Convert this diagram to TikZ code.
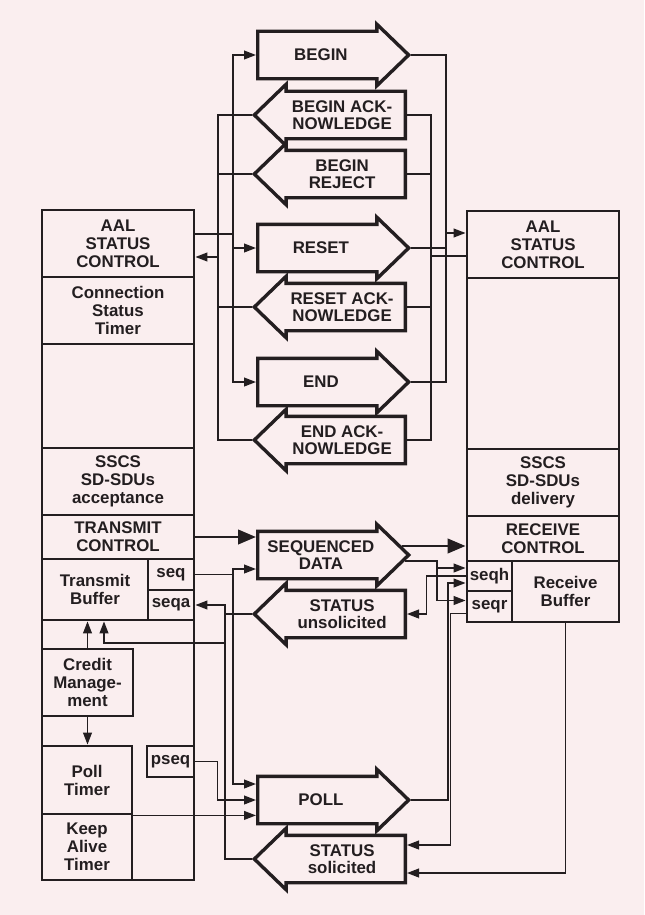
\documentclass[tikz,border=0pt]{standalone}
\usepackage{fontspec}
\setmainfont{Liberation Sans}
\usepackage{tikz}
\usetikzlibrary{positioning}
\usetikzlibrary{shapes.arrows}
\usetikzlibrary{arrows.meta}
\definecolor{paper}{RGB}{250,238,239}
\definecolor{ink}{RGB}{35,30,32}
\tikzset{
  box_cell/.style={draw=ink, line width=2pt, inner sep=0, align=center, text=ink, font=\fontsize{12}{12.8}\selectfont\bfseries},
  msg/.style={single arrow, draw=ink, line width=2.4pt, inner xsep=0, inner ysep=5.5mm, minimum height=37.75mm, minimum width=14.5mm, single arrow head extend=1.75mm, single arrow tip angle=88},
  msg_text/.style={align=center, text=ink, font=\fontsize{12}{12}\selectfont\bfseries},
  msg_right/.style={msg, anchor=tail, label={[msg_text]center:{#1}}},
  msg_left/.style={msg, shape border rotate=180, anchor=tail, label={[msg_text]center:{#1}}},
  wire/.style={draw=ink, line width=1.1pt},
  arrow_thin/.style={-{Triangle[length=3mm, width=2.2mm]}, line width=1.1pt, color=ink},
  arrow_thick/.style={-{Triangle[length=4.5mm, width=3.6mm]}, line width=2pt, color=ink}
}

\begin{document}
\begin{tikzpicture}[x=0.25mm, y=-0.25mm]
\fill[paper] (0,0) rectangle (644,915);
\useasboundingbox (0,0) rectangle (644,915);

%% transmitter
\node[box_cell, minimum width=38mm, minimum height=65mm] at (118,750) (lBase) {};
\node[box_cell, minimum width=38mm, minimum height=16.75mm] at (118,243.5) (lAal) {AAL\\STATUS\\CONTROL};
\node[box_cell, minimum width=38mm, minimum height=16.75mm] at (118,310.5) (lTimer) {Connection\\Status\\Timer};
\node[box_cell, minimum width=38mm, minimum height=26mm] at (118,396) (lEmpty) {};
\node[box_cell, minimum width=38mm, minimum height=16.75mm] at (118,481.5) (lSscs) {SSCS\\SD-SDUs\\acceptance};
\node[box_cell, minimum width=38mm, minimum height=11mm] at (118,537) (lTx) {TRANSMIT\\CONTROL};
\node[box_cell, minimum width=26.5mm, minimum height=15.25mm] at (95,589.5) (lBuf) {Transmit\\Buffer};
\node[box_cell, minimum width=11.5mm, minimum height=7.75mm] at (171,574.5) (lSeq) {seq};
\node[box_cell, minimum width=11.5mm, minimum height=7.5mm] at (171,605) (lSeqa) {seqa};
\node[box_cell, minimum width=22.75mm, minimum height=16.75mm] at (87.5,682.5) (credit) {Credit\\Manage-\\ment};
\node[box_cell, minimum width=22.5mm, minimum height=17mm] at (87,780) (pollTimer) {Poll\\Timer};
\node[box_cell, minimum width=22.5mm, minimum height=16.5mm] at (87,847) (keepAlive) {Keep\\Alive\\Timer};
\node[box_cell, minimum width=11.75mm, minimum height=7.75mm] at (170.5,761.5) (pseq) {pseq};

%% receiver
\node[box_cell, minimum width=38mm, minimum height=16.75mm] at (543,244.5) (rAal) {AAL\\STATUS\\CONTROL};
\node[box_cell, minimum width=38mm, minimum height=42.75mm] at (543,363.5) (rEmpty) {};
\node[box_cell, minimum width=38mm, minimum height=16.75mm] at (543,482.5) (rSscs) {SSCS\\SD-SDUs\\delivery};
\node[box_cell, minimum width=38mm, minimum height=11.25mm] at (543,538.5) (rRx) {RECEIVE\\CONTROL};
\node[box_cell, minimum width=11.25mm, minimum height=7.5mm] at (489.5,576) (seqh) {seqh};
\node[box_cell, minimum width=11.25mm, minimum height=7.75mm] at (489.5,606.5) (seqr) {seqr};
\node[box_cell, minimum width=26.75mm, minimum height=15.25mm] at (565.5,591.5) (rBuf) {Receive\\Buffer};

%% messages
\node[msg_right={BEGIN}] at (256,55) (begin) {};
\node[msg_left={BEGIN ACK-\\NOWLEDGE}] at (407,115) (beginAck) {};
\node[msg_left={BEGIN\\REJECT}] at (407,174) (beginRej) {};
\node[msg_right={RESET}] at (256,248) (reset) {};
\node[msg_left={RESET ACK-\\NOWLEDGE}] at (407,307) (resetAck) {};
\node[msg_right={END}] at (256,382) (end) {};
\node[msg_left={END ACK-\\NOWLEDGE}] at (407,440) (endAck) {};
\node[msg_right={SEQUENCED\\DATA}] at (256,555) (seqData) {};
\node[msg_left={STATUS\\unsolicited}] at (407,614) (statusU) {};
\node[msg_right={POLL}] at (256,800) (poll) {};
\node[msg_left={STATUS\\solicited}] at (407,859) (statusS) {};

%% bus points
\coordinate (txBus) at (233,234);
\coordinate (rxBus) at (218,257);
\coordinate (rtxBus) at (446,233);
\coordinate (rrxBus) at (431,256);
\coordinate (seqBus) at (233,574.5);
\coordinate (statBus) at (225,643);
\coordinate (rseqBus) at (437,568);

%% connection control
\draw[wire] (lAal.east |- txBus) -- (txBus);
\draw[arrow_thin] (txBus) |- (begin.tail);
\draw[arrow_thin] (txBus) |- (reset.tail);
\draw[arrow_thin] (txBus) |- (end.tail);
\draw[arrow_thin] (rxBus) -- (rxBus -| lAal.east);
\draw[wire] (beginAck.tip) -| (rxBus);
\draw[wire] (beginRej.tip) -| (rxBus);
\draw[wire] (resetAck.tip) -| (rxBus);
\draw[wire] (endAck.tip) -| (rxBus);

\draw[arrow_thin] (rtxBus) -- (rtxBus -| rAal.west);
\draw[wire] (begin.tip) -| (rtxBus);
\draw[wire] (reset.tip) -| (rtxBus);
\draw[wire] (end.tip) -| (rtxBus);
\draw[wire] (rrxBus -| rAal.west) -- (rrxBus);
\draw[wire] (rrxBus) |- (beginAck.tail);
\draw[wire] (rrxBus) |- (beginRej.tail);
\draw[wire] (rrxBus) |- (resetAck.tail);
\draw[wire] (rrxBus) |- (endAck.tail);

%% data transfer
\draw[arrow_thick] (lTx.east) -- (lTx.east -| seqData.tail);
\draw[arrow_thick] ([shift={(-9,-9)}]seqData.tip) coordinate (sdOut) -- (sdOut -| rRx.west);

\draw[wire] (lSeq.east) -- (seqBus);
\draw[arrow_thin] (seqBus) |- ([shift={(0,14)}]seqData.tail);
\draw[arrow_thin] (seqBus) |- ([shift={(0,-16)}]poll.tail);
\draw[arrow_thin] (pseq.east) -- ++(22,0) |- (poll.tail);
\draw[arrow_thin] (pollTimer.south east) -- (pollTimer.south east -| poll.tail);

\draw[wire] (statusU.tip) -| (statBus);
\draw[wire] (statusS.tip) -| (statBus);
\draw[arrow_thin] (statBus) |- (lSeqa.east);
\draw[arrow_thin] (statBus) -| ([shift={(9,0)}]lBuf.south);
\draw[arrow_thin] (credit.north) -- (credit.north |- lBuf.south);
\draw[arrow_thin] (credit.south) -- (credit.south |- pollTimer.north);

\draw[arrow_thin] ([shift={(-6,6)}]seqData.tip) -| (rseqBus) -- (rseqBus -| seqh.west);
\draw[arrow_thin] (rseqBus) |- ([shift={(0,-6)}]seqr.west);
\draw[arrow_thin] (seqh.west) -- ++(-39,0) |- (statusU.tail);
\draw[arrow_thin] (poll.tip) -- ++(37,0) |- ([shift={(0,7)}]seqh.west);
\draw[arrow_thin] ([shift={(0,7)}]seqr.west) -- ++(-15,0) |- ([shift={(0,-14)}]statusS.tail);
\draw[arrow_thin] (rBuf.south) |- ([shift={(0,14)}]statusS.tail);

\end{tikzpicture}
\end{document}
